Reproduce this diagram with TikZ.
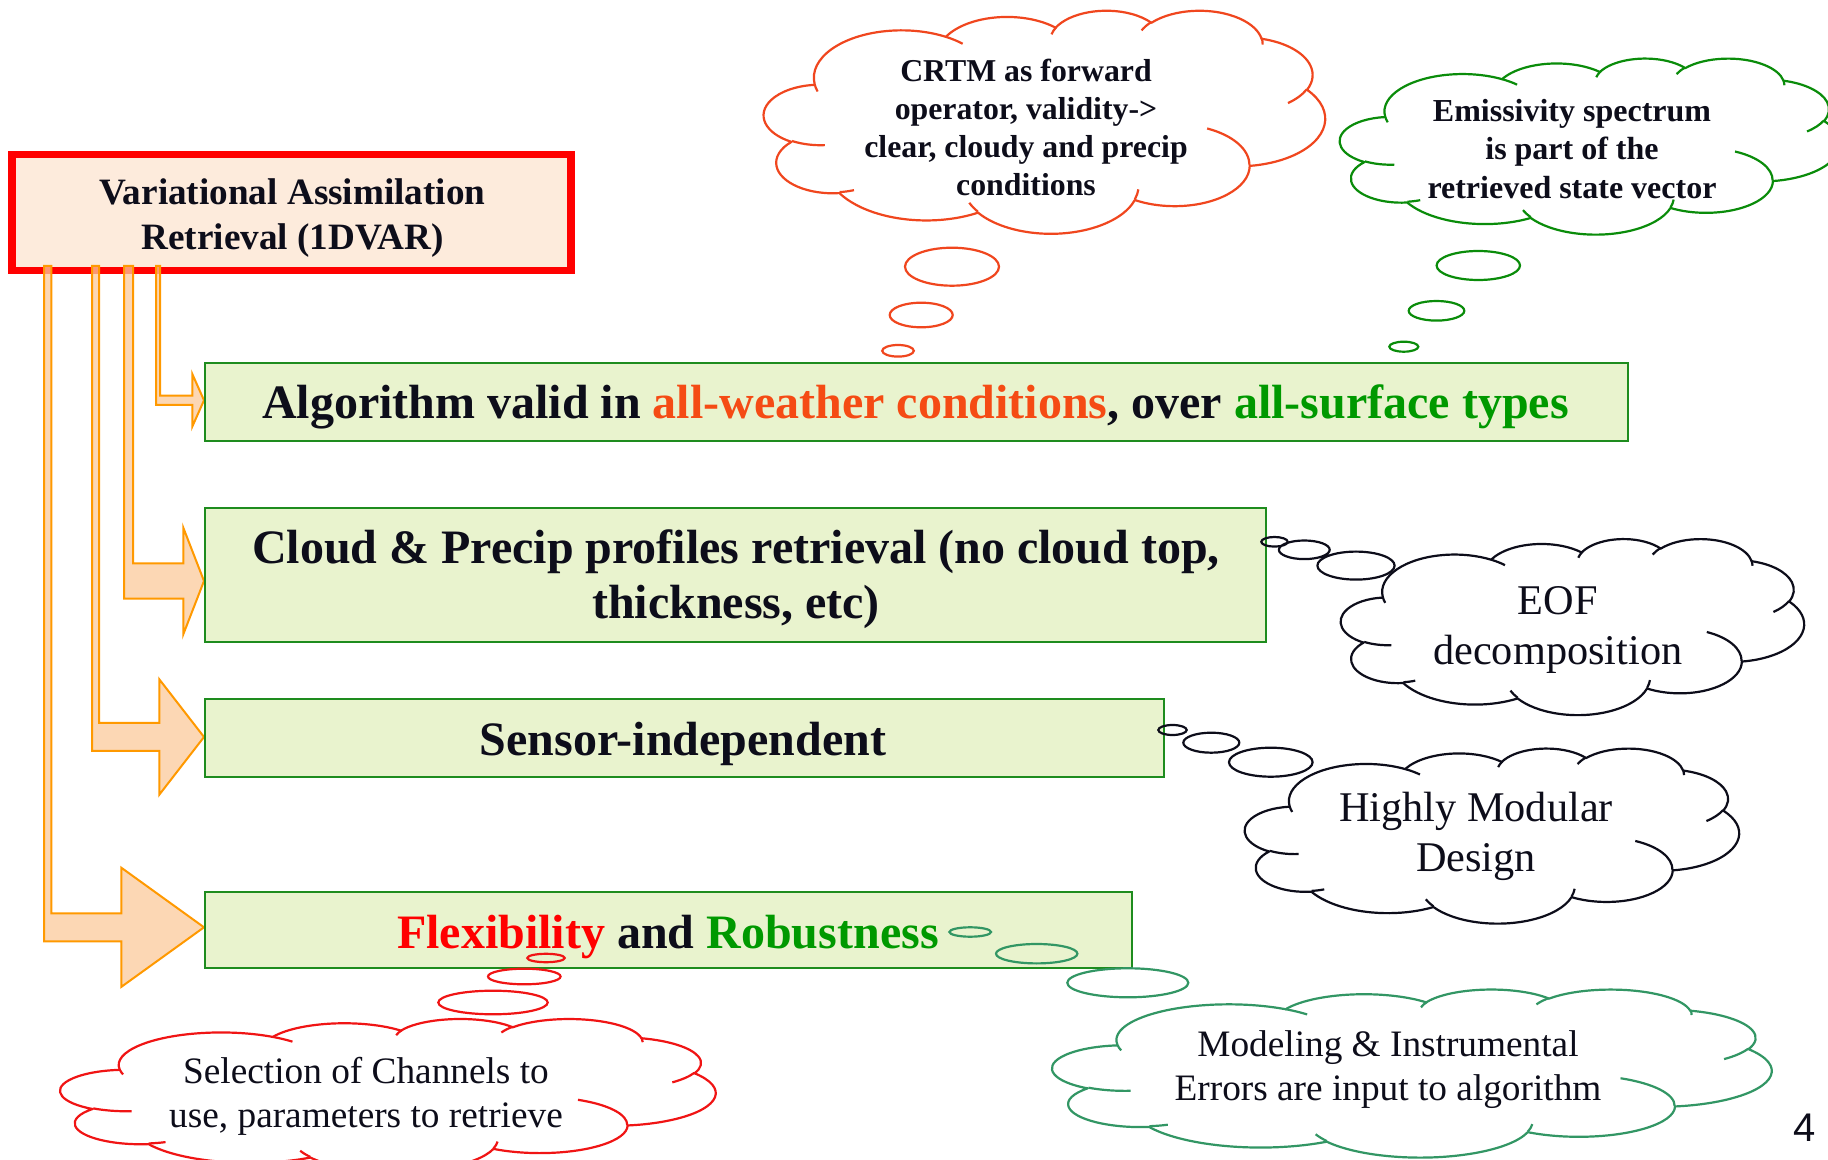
\documentclass[tikz,border=0pt]{standalone}
\usepackage{fontspec}
\setmainfont{Liberation Serif}
\newfontfamily\pagenofont{Liberation Sans}

\definecolor{ink}{RGB}{13,13,26}
\definecolor{peach}{RGB}{253,235,220}
\definecolor{boxgreen}{RGB}{30,140,30}
\definecolor{boxfill}{RGB}{233,243,206}
\definecolor{arrowline}{RGB}{255,153,0}
\definecolor{arrowfill}{RGB}{251,202,155}
\definecolor{crtmred}{RGB}{240,70,30}
\definecolor{emgreen}{RGB}{10,140,10}
\definecolor{selred}{RGB}{240,20,20}
\definecolor{modgreen}{RGB}{50,150,100}
\definecolor{weather}{RGB}{245,75,20}
\definecolor{surface}{RGB}{0,153,0}
\definecolor{flexred}{RGB}{255,0,0}

% elliptical arc given by radii and a visual start angle / sweep (y pointing down)
\def\pptarc#1#2#3#4{arc[x radius=#1,y radius=#2,
  start angle={atan2((#1)*sin(#3),(#2)*cos(#3))},
  delta angle={mod(atan2((#1)*sin((#3)+(#4)),(#2)*cos((#3)+(#4)))-atan2((#1)*sin(#3),(#2)*cos(#3))+720,360)}]}

% cloud outline in a 100 x 100 frame: #1,#2 top-left corner, #3 width, #4 height, #5 colour
\newcommand\pptcloud[5]{%
  \begin{scope}[shift={(#1,#2)}, xscale=#3/100, yscale=#4/100, cloudline, color=#5]
    \draw (9.0278,33.2639)
      \pptarc{15.6319}{21.2731}{-190.48748}{123.78053}
      \pptarc{12.3449}{16.8218}{-144.10238}{89.94523}
      \pptarc{10.1042}{13.7616}{-145.80792}{99.72302}
      \pptarc{11.2431}{15.2662}{-130.98607}{117.24173}
      \pptarc{12.3449}{16.8356}{-78.70888}{109.02692}
      \pptarc{15.6829}{21.3426}{-46.26725}{130.269}
      \pptarc{13.3912}{18.2106}{0.62502}{114.03333}
      \pptarc{15.6296}{21.3310}{22.4516}{115.17255}
      \pptarc{17.8704}{24.4051}{66.24263}{75.71102}
      \pptarc{10.0926}{13.6991}{-274.94208}{146.73557}
      \pptarc{10.0579}{13.7616}{-246.8285}{152.51885}
      -- cycle;
    \draw (10.8634,60.5949) \pptarc{10.0579}{13.7616}{86.742}{26.4295}
          (16.0370,80.7847) \pptarc{10.0926}{13.6991}{73.61047}{11.44747}
          (38.1435,90.4861) \pptarc{15.6296}{21.3310}{137.62415}{14.0811}
          (66.7292,80.4421) \pptarc{15.6296}{21.3310}{6.45327}{15.99835}
          (79.0023,53.1343) \pptarc{13.3912}{18.2106}{-70.29235}{70.91737}
          (96.7546,35.5417) \pptarc{12.3449}{16.8356}{30.31803}{27.7515}
          (88.7130,12.5602) \pptarc{11.2431}{15.2662}{-13.74433}{14.8589}
          (67.3102,9.1481)  \pptarc{11.2431}{15.2662}{-149.18145}{18.19537}
          (51.2523,10.9259) \pptarc{10.1042}{13.7616}{-163.49427}{17.68635}
          (32.4074,12.0185) \pptarc{15.6319}{21.2731}{-66.70695}{12.31935}
          (9.5532,36.5486)  \pptarc{15.6319}{21.2731}{157.65435}{11.85817};
  \end{scope}}

\tikzset{
  cloudline/.style={line width=1.1pt, line join=round},
  tailring/.style={line width=1.1pt},
  gbox/.style={draw=boxgreen, fill=boxfill, line width=1pt, rectangle, inner sep=0pt},
  blockarrow/.style={draw=arrowline, fill=arrowfill, fill opacity=0.75, line width=1pt, line join=miter},
  lbl/.style={inner sep=0pt, text=ink, align=center},
  boxtext/.style={lbl, font=\bfseries\fontsize{24}{28}\selectfont},
}

\begin{document}
\begin{tikzpicture}[x=0.5pt, y=-0.5pt]
  \path[use as bounding box] (0,0) rectangle (1828,1160);
  \clip (0,0) rectangle (1828,1160);
  \fill[white] (0,0) rectangle (1828,1160);

  % title box
  \node[draw=red, fill=peach, line width=3.85pt, minimum width=279.4pt,
        minimum height=58pt, inner sep=0pt] (var) at (291.6,212.5) {};
  \node[lbl, font=\bfseries\fontsize{18.6}{22.65}\selectfont] (vartext) at (292.5,217.6)
    {\strut Variational Assimilation\\\strut Retrieval (1DVAR)};

  % bent block arrows leaving the title box
  \draw[blockarrow] (156,266) -- (160,266) -- (160,395.7) -- (192.3,395.7) -- (192.3,374)
    -- (204,400.3) -- (192.3,426.6) -- (192.3,405) -- (156,405) -- cycle;
  \draw[blockarrow] (124,266) -- (133,266) -- (133,563.3) -- (183.3,563.3) -- (183.3,527.7)
    -- (204,581) -- (183.3,634.3) -- (183.3,598.7) -- (124,598.7) -- cycle;
  \draw[blockarrow] (92,266) -- (99,266) -- (99,723) -- (159.3,723) -- (159.3,679.3)
    -- (204,737) -- (159.3,794.7) -- (159.3,751) -- (92,751) -- cycle;
  \draw[blockarrow] (44,266) -- (51.3,266) -- (51.3,913.3) -- (121.3,913.3) -- (121.3,867.7)
    -- (204,927.3) -- (121.3,986.9) -- (121.3,941.3) -- (44,941.3) -- cycle;

  % green statement boxes
  \node[gbox, minimum width=711.5pt, minimum height=38.7pt] (allweather) at (916.5,402) {};
  \node[gbox, minimum width=530.3pt, minimum height=67.15pt] (cloudprecip) at (735.3,574.85) {};
  \node[gbox, minimum width=479.5pt, minimum height=38.7pt] (sensor) at (684.5,738) {};
  \node[gbox, minimum width=463.25pt, minimum height=38.3pt] (flex) at (668.25,930) {};

  \node[boxtext, anchor=base] (allweathertext) at (915.5,419)
    {Algorithm valid in \textcolor{weather}{all-weather conditions}, over \textcolor{surface}{all-surface types}};
  \node[boxtext] (cloudprecipttext) at (736,579.8)
    {\strut Cloud \& Precip profiles retrieval (no cloud top,\\\strut thickness, etc)};
  \node[boxtext, anchor=base] (sensortext) at (683,755.5) {Sensor-independent};
  \node[boxtext, anchor=base] (flextext) at (668,948)
    {\textcolor{flexred}{Flexibility} and \textcolor{surface}{Robustness}};

  % thought clouds
  \pptcloud{764}{10}{561}{223}{crtmred}
  \draw[tailring, crtmred] (952,266.7) ellipse [x radius=47, y radius=19]
                           (921.2,315) ellipse [x radius=31.5, y radius=12.3]
                           (898,350.8) ellipse [x radius=15.8, y radius=5.8];
  \node[lbl, font=\bfseries\fontsize{15.9}{18.9}\selectfont] (crtm) at (1026,130.8)
    {\strut CRTM as forward\\\strut operator, validity->\\\strut clear, cloudy and precip\\\strut conditions};

  \pptcloud{1340}{58}{500}{176}{emgreen}
  \draw[tailring, emgreen] (1478.3,265.5) ellipse [x radius=41.7, y radius=14.5]
                           (1436.5,310.8) ellipse [x radius=27.8, y radius=9.8]
                           (1403.8,346.7) ellipse [x radius=14.5, y radius=5];
  \node[lbl, font=\bfseries\fontsize{16}{19.15}\selectfont] (emis) at (1572,152.3)
    {\strut Emissivity spectrum\\\strut is part of the\\\strut retrieved state vector};

  \pptcloud{1341}{538.5}{463}{176}{ink}
  \draw[tailring, ink] (1274.5,541.8) ellipse [x radius=13.2, y radius=4.8]
                       (1304.3,549.8) ellipse [x radius=25.4, y radius=9.3]
                       (1356,565.6) ellipse [x radius=38.6, y radius=14]; 
  \node[lbl, font=\fontsize{21.15}{25.35}\selectfont] (eof) at (1557.8,629.5)
    {\strut EOF\\\strut decomposition};

  \pptcloud{1245}{748}{494}{175}{ink}
  \draw[tailring, ink] (1172.5,730) ellipse [x radius=14.2, y radius=5]
                       (1211.3,742.7) ellipse [x radius=28, y radius=10]
                       (1270.8,762.2) ellipse [x radius=41.8, y radius=14.5];
  \node[lbl, font=\fontsize{21.15}{25}\selectfont] (modular) at (1476,836.7)
    {\strut Highly Modular\\\strut Design};

  \pptcloud{1052.5}{989}{719}{168}{modgreen}
  \draw[tailring, modgreen] (970.2,932) ellipse [x radius=20.8, y radius=4.7]
                            (1036.7,953.7) ellipse [x radius=40.7, y radius=9.7]
                            (1127.8,982.8) ellipse [x radius=60.5, y radius=14.5];
  \node[lbl, font=\fontsize{18.65}{21.65}\selectfont] (errors) at (1388,1069.7)
    {\strut Modeling \& Instrumental\\\strut Errors are input to algorithm};

  \pptcloud{60.5}{1018.5}{655}{153}{selred}
  \draw[tailring, selred] (546,958) ellipse [x radius=18.7, y radius=4.2]
                          (524.3,976.5) ellipse [x radius=36.3, y radius=7.8]
                          (493,1002.5) ellipse [x radius=54.7, y radius=11.8];
  \node[lbl, font=\fontsize{18.65}{22}\selectfont] (channels) at (366,1096.7)
    {\strut Selection of Channels to\\\strut use, parameters to retrieve};

  % page number
  \node[lbl, font=\pagenofont\fontsize{20}{24}\selectfont] (pageno) at (1805,1127.5) {4};
\end{tikzpicture}
\end{document}
